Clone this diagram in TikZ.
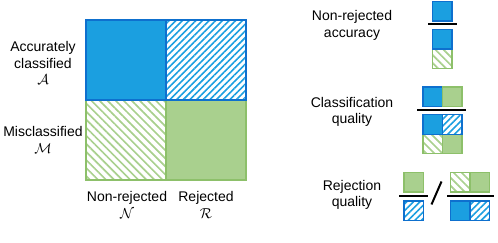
\documentclass[tikz,border=0pt]{standalone}
\usepackage{fontspec}
\setmainfont{Liberation Sans}
\usetikzlibrary{patterns.meta}

\definecolor{accblue}{RGB}{27,159,224}
\definecolor{accedge}{RGB}{14,112,206}
\definecolor{misgreen}{RGB}{169,208,142}
\definecolor{misedge}{RGB}{141,192,106}

\tikzset{
  accfill/.style={draw=accedge,fill=accblue},
  acchatch/.style={draw=accedge,pattern={Lines[angle=45,distance=4.7pt,line width=1.6pt]},pattern color=accblue},
  misfill/.style={draw=misedge,fill=misgreen},
  mishatch/.style={draw=misedge,pattern={Lines[angle=-45,distance=5.7pt,line width=1.7pt]},pattern color=misgreen},
  lbl/.style={align=center,font=\fontsize{14}{16.5}\selectfont,inner sep=0pt},
  bar/.style={line width=2pt,black}
}

\begin{document}
\begin{tikzpicture}[x=1pt,y=-1pt]
  \useasboundingbox (0,0) rectangle (498,243);

  % Main grid: rows are classified / misclassified, columns non-rejected / rejected.
  \path[mishatch,line width=2pt] (86,100) rectangle +(80,80);
  \path[misfill,line width=2pt] (166,100) rectangle +(80,80);
  \path[acchatch,line width=2pt] (166,20) rectangle +(80,80);
  \path[accfill,line width=2pt] (86,20) rectangle +(80,80);

  \node[lbl] (acclbl) at (43,63) {Accurately\\classified\\$\mathcal{A}$};
  \node[lbl] (mislbl) at (43,140) {Misclassified\\$\mathcal{M}$};
  \node[lbl] (nonlbl) at (127,205) {Non-rejected\\$\mathcal{N}$};
  \node[lbl] (rejlbl) at (206,205) {Rejected\\$\mathcal{R}$};

  % Non-rejected accuracy
  \node[lbl] (nralbl) at (352,25.5) {Non-rejected\\accuracy};
  \path[accfill,line width=1.2pt] (432.5,1.5) rectangle +(19.5,19.5);
  \draw[bar] (428,24.5) -- (456.5,24.5);
  \path[mishatch,line width=1.2pt] (432.5,49) rectangle +(19.5,19.5);
  \path[accfill,line width=1.2pt] (432.5,29.5) rectangle +(19.5,19.5);

  % Classification quality
  \node[lbl] (cqlbl) at (352,112) {Classification\\quality};
  \path[accfill,line width=1.2pt] (423,87) rectangle +(19.5,19.5);
  \path[misfill,line width=1.2pt] (442.5,87) rectangle +(19.5,19.5);
  \draw[bar] (417,110.5) -- (466,110.5);
  \path[mishatch,line width=1.2pt] (423,134.3) rectangle +(19.5,19.5);
  \path[misfill,line width=1.2pt] (442.5,134.3) rectangle +(19.5,19.5);
  \path[acchatch,line width=1.2pt] (442.5,114.8) rectangle +(19.5,19.5);
  \path[accfill,line width=1.2pt] (423,114.8) rectangle +(19.5,19.5);

  % Rejection quality
  \node[lbl] (rqlbl) at (352,195) {Rejection\\quality};
  \path[misfill,line width=1.2pt] (404,172.5) rectangle +(19.5,19.5);
  \draw[bar] (399,196) -- (428,196);
  \path[acchatch,line width=1.2pt] (404,201) rectangle +(19.5,19.5);
  \draw[bar] (431.5,204.5) -- (441.5,181.5);
  \path[mishatch,line width=1.2pt] (450.5,172.5) rectangle +(19.5,19.5);
  \path[misfill,line width=1.2pt] (470,172.5) rectangle +(19.5,19.5);
  \draw[bar] (447,196) -- (494,196);
  \path[acchatch,line width=1.2pt] (470,201) rectangle +(19.5,19.5);
  \path[accfill,line width=1.2pt] (450.5,201) rectangle +(19.5,19.5);
\end{tikzpicture}
\end{document}
